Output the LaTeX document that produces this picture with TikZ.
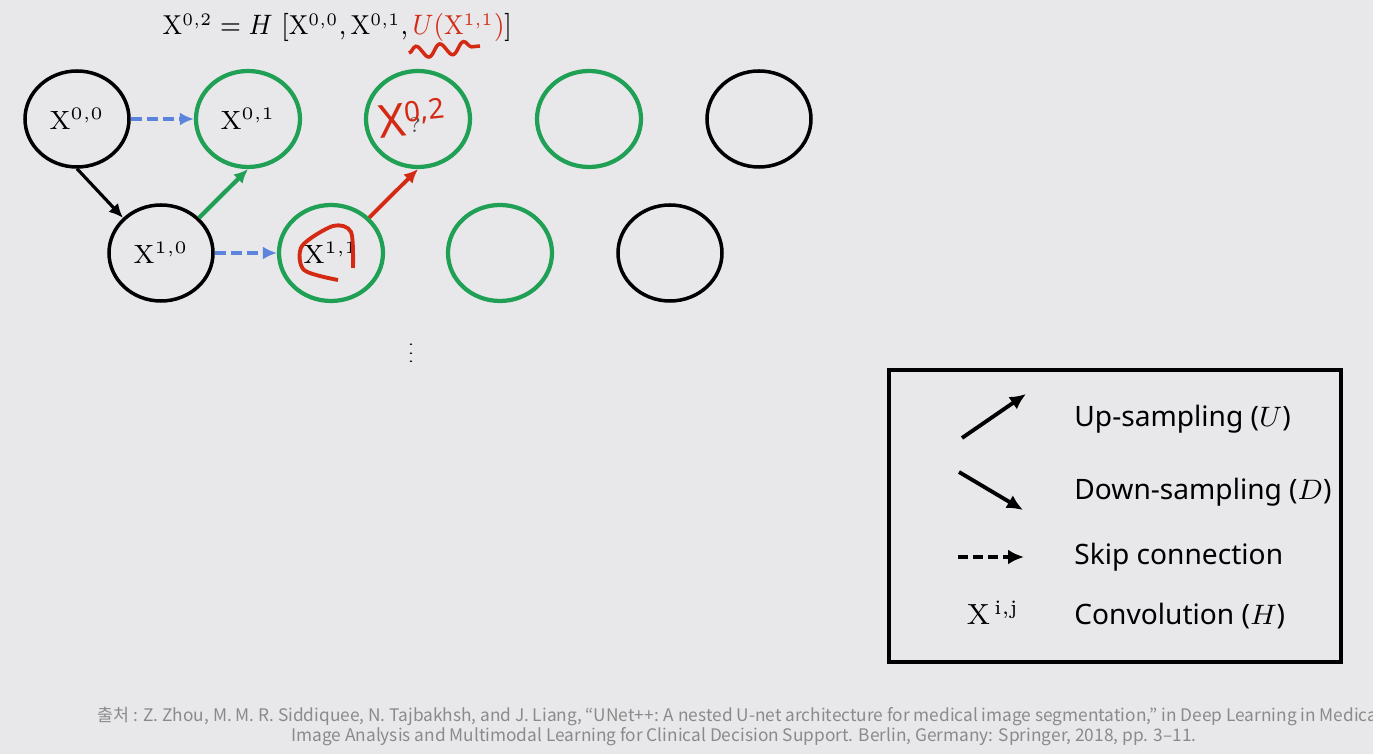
\documentclass[tikz,border=0pt]{standalone}
\usepackage{amsmath,amssymb}
\usepackage{fontspec}
\setsansfont{Noto Sans}
\newfontfamily\kofont{Noto Sans CJK KR}
\usetikzlibrary{arrows.meta, positioning, shapes.geometric, decorations.pathmorphing}
\definecolor{bggray}{HTML}{E8E7EA}
\definecolor{ngreen}{HTML}{1FA055}
\definecolor{skipblue}{HTML}{5B85DD}
\definecolor{penred}{HTML}{D42A14}
\definecolor{citegray}{HTML}{8A8A8A}

\begin{document}
\begin{tikzpicture}[
    >={Latex[length=1.4mm, width=1.3mm]},
    every node/.style={text=black},
    blknode/.style={ellipse, draw=black, line width=1pt, minimum width=1.04cm,
      minimum height=0.96cm, inner sep=0pt, font=\fontsize{7.5}{9}\selectfont},
    grnnode/.style={blknode, draw=ngreen, line width=1.2pt},
    skiparrow/.style={->, skipblue, line width=1pt, dash pattern=on 1.1mm off 0.5mm},
    legarrow/.style={-{Latex[length=1.6mm, width=1.5mm]}, black, line width=1.1pt},
    legtext/.style={anchor=west, font=\sffamily\fontsize{8}{10}\selectfont},
    citetext/.style={text=citegray, inner sep=0pt, font=\kofont\fontsize{4.92}{6}\selectfont},
  ]

  % Background
  \fill[bggray] (0,0) rectangle (13.73,-7.54);
  \useasboundingbox (0,0) rectangle (13.73,-7.54);
  \clip (0,0) rectangle (13.73,-7.54);

  % === Formula ===
  \node[anchor=base west, inner sep=0pt, font=\fontsize{7.8}{10}\selectfont] (eqn) at (1.62,-0.35)
    {\scalebox{0.9}[1]{$\mathrm{X}^{0,2} = H\ [\mathrm{X}^{0,0}, \mathrm{X}^{0,1},
      \textcolor{penred}{U(\mathrm{X}^{1,1})}]$}};
  \draw[penred, line width=1pt, decorate,
        decoration={snake, amplitude=0.6mm, segment length=2.4mm}]
    (4.09,-0.53) -- (4.80,-0.46);

  % === Nested grid ===
  \def\ya{-1.19}
  \def\yb{-2.53}

  \node[blknode] (x00) at (0.77,\ya) {$\mathrm{X}^{0,0}$};
  \node[grnnode] (x01) at (2.48,\ya) {$\mathrm{X}^{0,1}$};
  \node[grnnode] (x02) at (4.18,\ya) {};
  \node[grnnode] (x03) at (5.89,\ya) {};
  \node[blknode] (x04) at (7.59,\ya) {};

  \node[blknode] (x10) at (1.61,\yb) {$\mathrm{X}^{1,0}$};
  \node[grnnode] (x11) at (3.31,\yb) {$\mathrm{X}^{1,1}$};
  \node[grnnode] (x12) at (5.00,\yb) {};
  \node[blknode] (x13) at (6.70,\yb) {};

  \node[font=\fontsize{6}{6}\selectfont, text=black!70] (qmark) at (4.15,-1.25) {?};

  % Connections
  \draw[->, black, line width=0.9pt] (x00.south) -- (x10.north west);
  \draw[->, ngreen, line width=1.2pt] (x10.north east) -- (x01.south);
  \draw[skiparrow] (x00.east) -- (x01.west);
  \draw[skiparrow] (x10.east) -- (x11.west);
  \draw[->, penred, line width=1.1pt] (x11.north east) -- (x02.south);

  % Handwritten marks
  \node[text=penred, rotate=6, font=\sffamily\fontsize{13}{13}\selectfont] (hand) at (4.12,-1.18)
    {X\raisebox{0.55ex}{\fontsize{8}{8}\selectfont\bfseries 0,2}};
  \draw[penred, line width=1.1pt] plot[smooth] coordinates
    {(3.53,-2.68) (3.51,-2.32) (3.33,-2.26) (3.02,-2.46) (3.04,-2.70) (3.38,-2.80)};

  \node[inner sep=0pt, font=\fontsize{6}{6}\selectfont] (dots) at (4.11,-3.47)
    {\scalebox{1}[0.6]{$\vdots$}};

  % === Legend ===
  \node[draw=black, line width=1.1pt, minimum width=4.52cm, minimum height=2.92cm]
    (legbox) at (11.15,-5.16) {};

  \coordinate (ua) at (9.62,-4.38);
  \coordinate (ub) at (10.26,-3.94);
  \coordinate (da) at (9.59,-4.72);
  \coordinate (db) at (10.23,-5.10);
  \coordinate (sa) at (9.58,-5.57);
  \coordinate (sb) at (10.24,-5.57);

  \draw[legarrow] (ua) -- (ub);
  \draw[legarrow] (da) -- (db);
  \draw[legarrow, dash pattern=on 1mm off 0.5mm] (sa) -- (sb);
  \node[font=\fontsize{8.3}{10}\selectfont] (xij) at (9.93,-6.13)
    {$\mathrm{X}^{\,\mathrm{i,j}}$};

  \node[legtext] (lup) at (10.62,-4.19) {Up-sampling ($U$)};
  \node[legtext] (ldown) at (10.62,-4.92) {Down-sampling ($D$)};
  \node[legtext] (lskip) at (10.62,-5.57) {Skip connection};
  \node[legtext] (lconv) at (10.62,-6.16) {Convolution ($H$)};

  % === Citation ===
  \node[citetext, anchor=west] (cite1) at (0.97,-7.16)
    {출처 : Z. Zhou, M. M. R. Siddiquee, N. Tajbakhsh, and J. Liang, “UNet++: A nested U-net architecture for medical image segmentation,” in Deep Learning in Medical};
  \node[citetext] (cite2) at (7.44,-7.37)
    {Image Analysis and Multimodal Learning for Clinical Decision Support. Berlin, Germany: Springer, 2018, pp. 3–11.};

\end{tikzpicture}
\end{document}
